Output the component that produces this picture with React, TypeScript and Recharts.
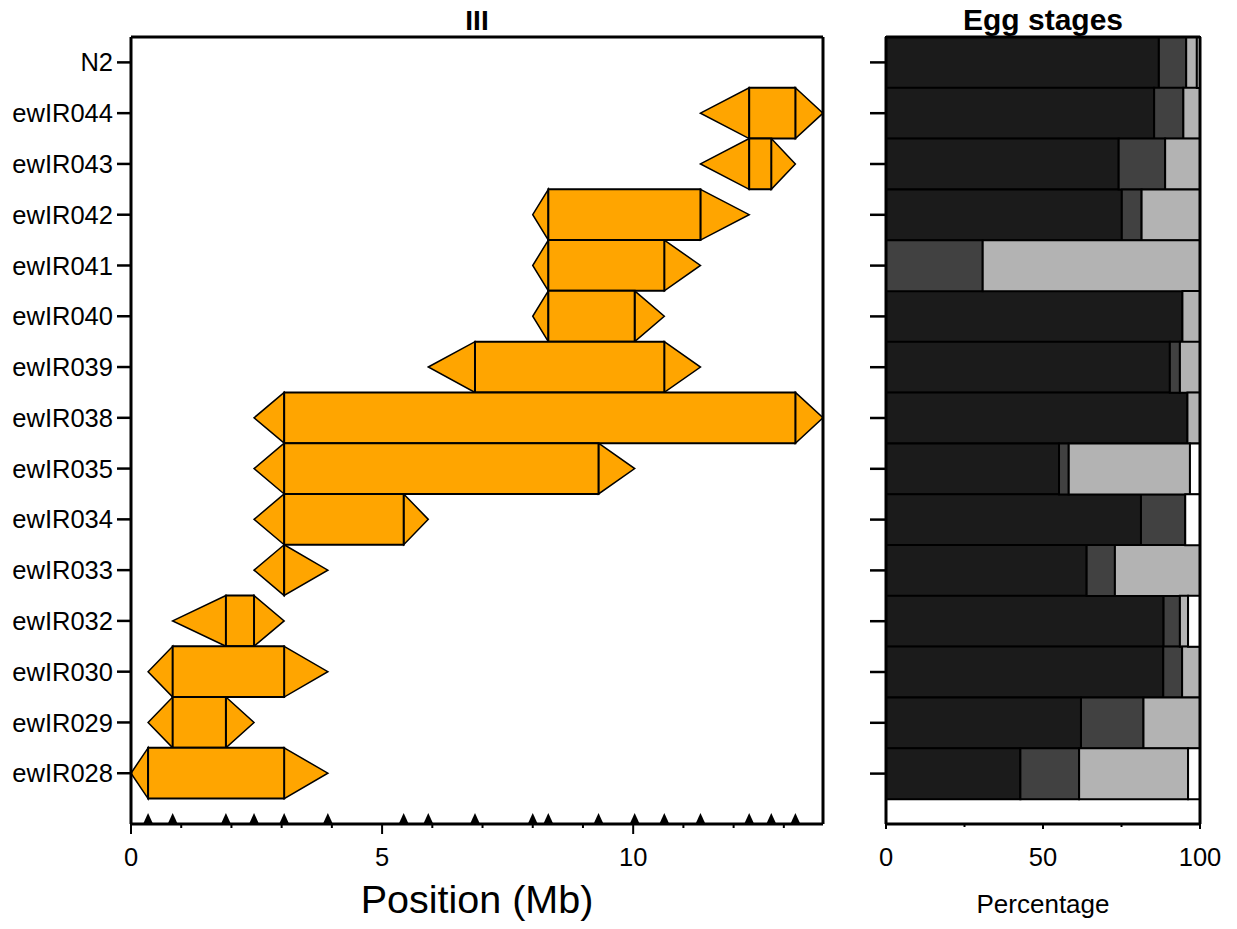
import React from 'react';
import { ComposedChart, BarChart, Bar, Scatter, XAxis, YAxis, ReferenceArea } from 'recharts';

const strains = [
  'N2', 'ewIR044', 'ewIR043', 'ewIR042', 'ewIR041', 'ewIR040', 'ewIR039', 'ewIR038',
  'ewIR035', 'ewIR034', 'ewIR033', 'ewIR032', 'ewIR030', 'ewIR029', 'ewIR028',
];

// genotyping markers on chromosome III (Mb)
const markers = [
  0.34, 0.83, 1.89, 2.45, 3.05, 3.92, 5.43, 5.92, 6.85, 8.0, 8.31, 9.31, 10.03,
  10.62, 11.34, 12.31, 12.75, 13.23,
];
const chromEnd = 13.78;

// introgression bounds per strain (Mb): flank start, core start, core end, flank end
const outerLeft = [null, 11.34, 11.34, 8.0, 8.0, 8.0, 5.92, 2.45, 2.45, 2.45, 2.45, 0.83, 0.34, 0.34, 0];
const innerLeft = [null, 12.31, 12.31, 8.31, 8.31, 8.31, 6.85, 3.05, 3.05, 3.05, 3.05, 1.89, 0.83, 0.83, 0.34];
const innerRight = [null, 13.23, 12.75, 11.34, 10.62, 10.03, 10.62, 13.23, 9.31, 5.43, 3.05, 2.45, 3.05, 1.89, 3.05];
const outerRight = [null, 13.78, 13.23, 12.31, 11.34, 10.62, 11.34, 13.78, 10.03, 5.92, 3.92, 3.05, 3.92, 2.45, 3.92];

// egg stages (%)
const stage1 = [86.9, 85.4, 74.1, 75.1, 0, 94.4, 90.4, 96.0, 55.1, 81.2, 63.9, 88.4, 88.3, 62.1, 42.8];
const stage2 = [8.7, 9.3, 14.8, 6.3, 30.8, 0, 3.2, 0, 3.1, 14.1, 9.0, 5.2, 6.0, 19.9, 18.7];
const stage3 = [3.4, 5.3, 11.1, 18.6, 69.2, 5.6, 6.4, 4.0, 38.6, 0, 27.1, 2.6, 5.7, 18.0, 34.7];
const stage4 = [1.0, 0, 0, 0, 0, 0, 0, 0, 3.2, 4.7, 0, 3.8, 0, 0, 3.8];

const posTicks = [0, 1, 2, 3, 4, 5, 6, 7, 8, 9, 10, 11, 12, 13];
const pctTicks = [0, 25, 50, 75, 100];

const ORANGE = '#FFA500';

const markerData = markers.map((m) => ({ pos: m, row: 15 }));
const eggData = strains.map((s, i) => ({
  name: s,
  s1: stage1[i],
  s2: stage2[i],
  s3: stage3[i],
  s4: stage4[i],
}));

const FlankLeft = (p: any) => {
  const { x, y, width, height } = p;
  return (
    <polygon
      points={`${x},${y + height / 2} ${x + width},${y} ${x + width},${y + height}`}
      fill={ORANGE}
      stroke="#000"
      strokeWidth={1.5}
    />
  );
};

const FlankRight = (p: any) => {
  const { x, y, width, height } = p;
  return (
    <polygon
      points={`${x},${y} ${x + width},${y + height / 2} ${x},${y + height}`}
      fill={ORANGE}
      stroke="#000"
      strokeWidth={1.5}
    />
  );
};

const Core = (p: any) => {
  const { x, y, width, height } = p;
  return (
    <path
      d={`M${x},${y}H${x + width}V${y + height}H${x}Z`}
      fill={ORANGE}
      stroke="#000"
      strokeWidth={2}
    />
  );
};

const MarkerShape = (p: any) => {
  const { cx, cy } = p;
  return <polygon points={`${cx - 5},${cy} ${cx},${cy - 11} ${cx + 5},${cy}`} fill="#000" />;
};

const makeTick = (majorStep: number, longLen: number, shortLen: number) => (p: any) => {
  const { x, y, payload } = p;
  const major = payload.value % majorStep === 0;
  return (
    <g>
      <line x1={x} y1={y} x2={x} y2={y + (major ? longLen : shortLen)} stroke="#000" strokeWidth={2} />
      {major && (
        <text x={x} y={y + 42} textAnchor="middle" fontSize={25.5} fill="#000">
          {payload.value}
        </text>
      )}
    </g>
  );
};

const PosTick = makeTick(5, 10, 4);
const PctTick = makeTick(50, 5, 3);

const frameLine = { stroke: '#000', strokeWidth: 3 };

function IntrogressionPanel() {
  return (
    <ComposedChart width={840} height={929} margin={{ top: 36, right: 16, bottom: 0, left: 0 }}>
      <XAxis
        dataKey="pos"
        type="number"
        domain={[0, chromEnd]}
        ticks={posTicks}
        interval={0}
        tickSize={0}
        tickMargin={0}
        tickLine={false}
        tick={PosTick}
        axisLine={frameLine}
        height={105}
        label={{ value: 'Position (Mb)', position: 'insideBottom', offset: 16, fontSize: 39.5, fill: '#000' }}
      />
      <XAxis
        xAxisId="frame"
        orientation="top"
        type="number"
        domain={[0, 1]}
        ticks={[0]}
        height={1}
        tick={false}
        tickLine={false}
        axisLine={frameLine}
        label={{ value: 'III', position: 'top', offset: 6, fontSize: 28, fontWeight: 'bold', fill: '#000' }}
      />
      <YAxis
        dataKey="row"
        type="number"
        domain={[-0.5, 15]}
        reversed
        ticks={strains.map((_, i) => i)}
        interval={0}
        tickFormatter={(v: number) => strains[v] ?? ''}
        width={131}
        tickSize={14}
        tickMargin={4}
        tick={{ fill: '#000', fontSize: 25.5 }}
        tickLine={{ stroke: '#000', strokeWidth: 2.5 }}
        axisLine={frameLine}
      />
      <YAxis
        yAxisId="frame"
        orientation="right"
        type="number"
        domain={[0, 1]}
        ticks={[0]}
        width={1}
        tick={false}
        tickLine={false}
        axisLine={frameLine}
      />
      {strains.map((s, i) =>
        outerLeft[i] === null ? null : (
          <ReferenceArea
            key={`l-${s}`}
            x1={outerLeft[i] as number}
            x2={innerLeft[i] as number}
            y1={i - 0.5}
            y2={i + 0.5}
            ifOverflow="visible"
            shape={FlankLeft}
          />
        )
      )}
      {strains.map((s, i) =>
        outerLeft[i] === null ? null : (
          <ReferenceArea
            key={`r-${s}`}
            x1={innerRight[i] as number}
            x2={outerRight[i] as number}
            y1={i - 0.5}
            y2={i + 0.5}
            ifOverflow="visible"
            shape={FlankRight}
          />
        )
      )}
      {strains.map((s, i) =>
        outerLeft[i] === null ? null : (
          <ReferenceArea
            key={`c-${s}`}
            x1={innerLeft[i] as number}
            x2={innerRight[i] as number}
            y1={i - 0.5}
            y2={i + 0.5}
            ifOverflow="visible"
            shape={Core}
          />
        )
      )}
      <Scatter data={markerData} shape={MarkerShape} isAnimationActive={false} />
    </ComposedChart>
  );
}

function EggPanel() {
  return (
    <BarChart
      width={397}
      height={929}
      data={eggData}
      layout="vertical"
      barCategoryGap={0}
      margin={{ top: 36, right: 36, bottom: 0, left: 0 }}
    >
      <XAxis
        type="number"
        domain={[0, 100]}
        ticks={pctTicks}
        interval={0}
        tickSize={0}
        tickMargin={0}
        tickLine={false}
        tick={PctTick}
        axisLine={frameLine}
        height={105}
        label={{ value: 'Percentage', position: 'insideBottom', offset: 16, fontSize: 26, fill: '#000' }}
      />
      <XAxis
        xAxisId="frame"
        orientation="top"
        type="number"
        domain={[0, 1]}
        ticks={[0]}
        height={1}
        tick={false}
        tickLine={false}
        axisLine={frameLine}
        label={{ value: 'Egg stages', position: 'top', offset: 6, fontSize: 30, fontWeight: 'bold', fill: '#000' }}
      />
      <YAxis
        type="category"
        dataKey="name"
        width={46}
        tickSize={16}
        tickFormatter={() => ''}
        tickLine={{ stroke: '#000', strokeWidth: 2.5 }}
        axisLine={frameLine}
        padding={{ top: 0, bottom: 25 }}
      />
      <YAxis
        yAxisId="frame"
        orientation="right"
        type="number"
        domain={[0, 1]}
        ticks={[0]}
        width={1}
        tick={false}
        tickLine={false}
        axisLine={frameLine}
      />
      <Bar dataKey="s1" stackId="egg" fill="#1b1b1b" stroke="#000" strokeWidth={2} isAnimationActive={false} />
      <Bar dataKey="s2" stackId="egg" fill="#414141" stroke="#000" strokeWidth={2} isAnimationActive={false} />
      <Bar dataKey="s3" stackId="egg" fill="#b3b3b3" stroke="#000" strokeWidth={2} isAnimationActive={false} />
      <Bar dataKey="s4" stackId="egg" fill="#ffffff" stroke="#000" strokeWidth={2} isAnimationActive={false} />
    </BarChart>
  );
}

export default function App() {
  return (
    <div
      style={{
        position: 'absolute',
        left: 0,
        top: 0,
        width: 1237,
        height: 929,
        background: '#fff',
        fontFamily: '"Liberation Sans", Arial, sans-serif',
      }}
    >
      <div style={{ position: 'absolute', left: 0, top: 0 }}>
        <IntrogressionPanel />
      </div>
      <div style={{ position: 'absolute', left: 840, top: 0 }}>
        <EggPanel />
      </div>
    </div>
  );
}
